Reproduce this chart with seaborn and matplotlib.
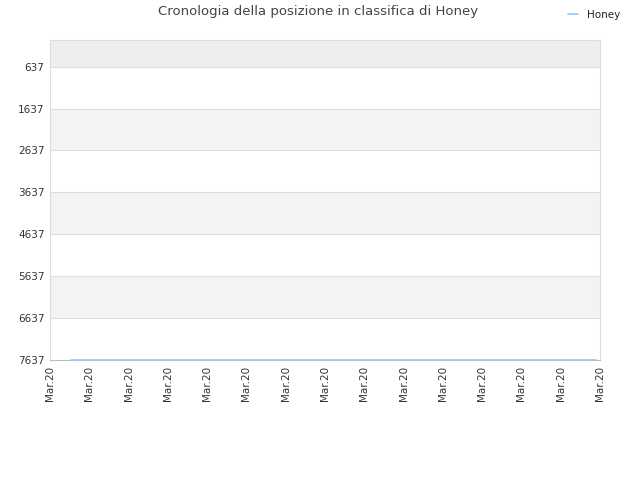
import numpy as np
import pandas as pd
import matplotlib
matplotlib.use("Agg")
import matplotlib.pyplot as plt
import seaborn as sns

# chart data
tick_pos = list(range(15))
tick_labels = ["Mar.20"] * 15
days = [0.53, 13.9]
ranks = [7637, 7637]
y_ticks = [637, 1637, 2637, 3637, 4637, 5637, 6637, 7637]

sns.set_theme(style="white")
plt.rcParams['font.family'] = ['DejaVu Sans']

df = pd.DataFrame({'day': days, 'rank': ranks, 'who': ['Honey'] * len(days)})

fig = plt.figure(figsize=(6.4, 4.8), dpi=100)
ax = fig.add_axes([50 / 640, 1 - 360 / 480, 550 / 640, 320 / 480])

# alternating bands
ax.axhspan(0, 637, color='#eeeeee', zorder=0, lw=0)
for i in range(len(y_ticks) - 1):
    if i % 2 == 1:
        ax.axhspan(y_ticks[i], y_ticks[i + 1], color='#f3f3f3', zorder=0, lw=0)
for y in y_ticks[:-1]:
    ax.axhline(y, color='#dddddd', lw=0.8, zorder=1)

sns.lineplot(data=df, x='day', y='rank', hue='who', palette=['#9cc5ee'],
             lw=1.2, ax=ax, zorder=3, clip_on=False)

ax.set_xlim(0, 14)
ax.set_ylim(7637, 0)
ax.set_yticks(y_ticks)
ax.set_yticklabels([str(v) for v in y_ticks])
ax.set_xticks(tick_pos)
ax.set_xticklabels(tick_labels, rotation=90)
ax.tick_params(axis='both', labelsize=7.5, labelcolor='#333333', length=0, pad=4)
ax.set_xlabel('')
ax.set_ylabel('')

for s in ['top', 'left', 'right']:
    ax.spines[s].set_color('#dddddd')
    ax.spines[s].set_linewidth(0.8)
ax.spines['bottom'].set_color('#bbbbbb')
ax.spines['bottom'].set_linewidth(0.8)

fig.text(318 / 640, 1 - 12 / 480, 'Cronologia della posizione in classifica di Honey',
         ha='center', va='center', fontsize=9.5, color='#444444')

leg = ax.legend(loc='center', bbox_to_anchor=(594 / 640, 1 - 15 / 480),
                bbox_transform=fig.transFigure, frameon=False, fontsize=7.5,
                handlelength=1.0, handletextpad=0.8)
for t in leg.get_texts():
    t.set_color('#222222')

fig.savefig('out.png', dpi=100)
